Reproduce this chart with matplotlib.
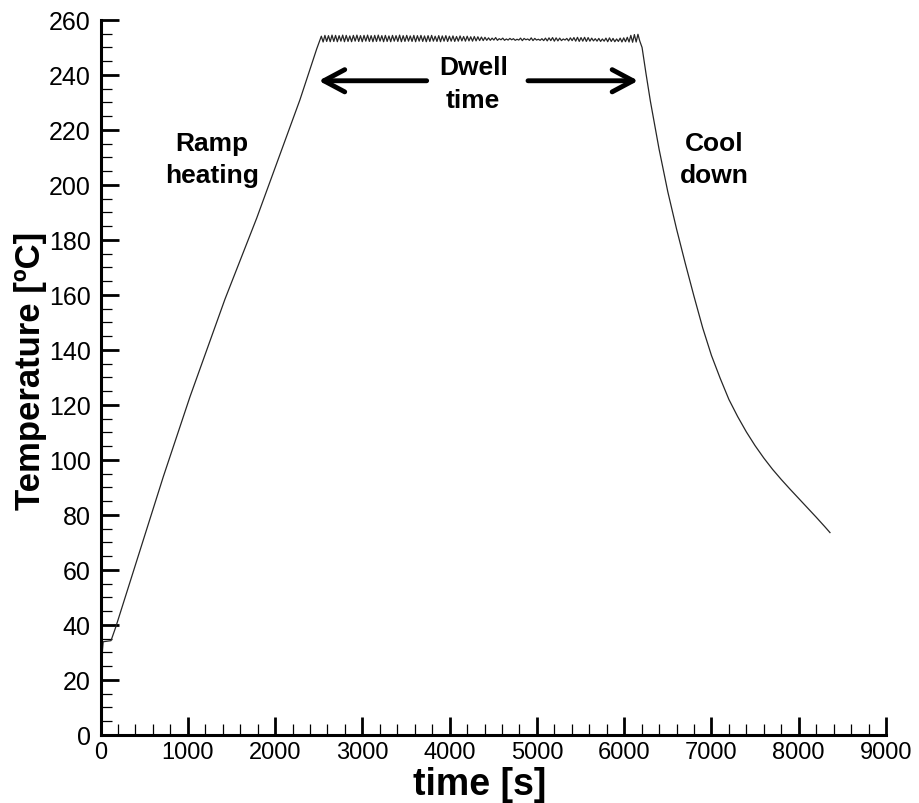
import numpy as np
import matplotlib
matplotlib.use("Agg")
import matplotlib.pyplot as plt
from matplotlib.ticker import MultipleLocator

plt.rcParams['font.family'] = ['Liberation Sans', 'DejaVu Sans']

# ---- data ----
# ramp heating segment (time [s], temperature [C])
ramp_t = [0, 20, 30, 120, 147, 174, 204, 720, 1025, 1426, 1790, 2285, 2477]
ramp_T = [24, 30, 33.9, 34.3, 36.7, 39.2, 42.2, 94, 123, 158.5, 188, 231, 249.5]

# dwell segment: oscillating controller response (alternating peaks / troughs)
dwell_start, dwell_end = 2530, 6178
dwell_T = [
    254.1, 252.0, 254.4, 252.2, 254.3, 252.1, 254.5, 252.2, 254.4, 252.1,
    254.3, 252.3, 254.5, 252.1, 254.4, 252.2, 254.2, 252.1, 254.4, 252.3,
    254.5, 252.2, 254.3, 252.1, 254.4, 252.3, 254.5, 252.2, 254.3, 252.1,
    254.4, 252.2, 254.5, 252.3, 254.3, 252.1, 254.4, 252.2, 254.2, 252.1,
    254.4, 252.3, 254.3, 252.2, 254.5, 252.1, 254.3, 252.2, 254.4, 252.3,
    254.2, 252.2, 254.4, 252.1, 254.3, 252.3, 254.4, 252.2, 254.2, 252.1,
    254.3, 252.2, 254.4, 252.3, 254.1, 252.2, 254.3, 252.1, 254.2, 252.3,
    254.3, 252.2, 254.1, 252.3, 254.2, 252.2, 254.0, 252.3, 254.2, 252.4,
    254.0, 252.3, 254.1, 252.4, 253.9, 252.3, 254.0, 252.4, 253.9, 252.5,
    253.8, 252.5, 253.7, 252.6, 253.5, 252.6, 253.4, 252.7, 253.6, 252.6,
    253.2, 252.8, 253.4, 252.6, 253.1, 252.7, 253.3, 252.8, 253.2, 252.6,
    253.0, 252.7, 253.4, 252.5, 253.3, 252.8, 253.1, 252.6, 253.5, 252.5,
    253.3, 252.7, 253.0, 252.6, 253.2, 252.5, 253.4, 252.4, 253.5, 252.5,
    253.6, 252.3, 253.5, 252.4, 253.4, 252.5, 253.1, 252.7, 253.3, 252.4,
    253.5, 252.5, 253.6, 252.3, 253.7, 252.2, 253.6, 252.3, 253.7, 252.2,
    253.6, 252.3, 253.4, 252.4, 253.2, 252.3, 253.3, 252.2, 253.1, 252.3,
    253.4, 252.1, 253.5, 252.2, 253.3, 252.1, 253.1, 252.2, 253.4, 252.0,
    253.5, 252.1, 253.7, 252.0, 254.4, 251.9, 254.7, 252.0, 254.8, 252.4,
]

# cool down segment
cool_t = [6205, 6250, 6300, 6400, 6500, 6600, 6700, 6800, 6900, 7000, 7100,
          7200, 7300, 7400, 7500, 7600, 7700, 7800, 7900, 8000, 8100, 8200,
          8300, 8358]
cool_T = [250.0, 240.5, 230.5, 213.0, 197.5, 184.0, 171.5, 159.5, 148.0, 138.0,
          129.7, 122.0, 115.8, 110.2, 105.2, 100.7, 96.6, 92.9, 89.4, 86.0, 82.6,
          79.2, 75.7, 73.6]

# axis ticks
x_major, x_minor = 1000, 200
y_major, y_minor = 20, 5

# ---- build the full series ----
dwell_t = np.linspace(dwell_start, dwell_end, len(dwell_T))
t = np.concatenate([ramp_t, dwell_t, cool_t])
T = np.concatenate([ramp_T, dwell_T, cool_T])

fig = plt.figure(figsize=(9.19, 8.04), dpi=100)
ax = fig.add_axes([0.1094, 0.0846, 0.8547, 0.8893])

ax.plot(t, T, color='#262626', lw=0.9)

ax.set_xlim(0, 9000)
ax.set_ylim(0, 260)
ax.xaxis.set_major_locator(MultipleLocator(x_major))
ax.xaxis.set_minor_locator(MultipleLocator(x_minor))
ax.yaxis.set_major_locator(MultipleLocator(y_major))
ax.yaxis.set_minor_locator(MultipleLocator(y_minor))

for s in ['top', 'right']:
    ax.spines[s].set_visible(False)
for s in ['left', 'bottom']:
    ax.spines[s].set_linewidth(2.2)

ax.tick_params(which='major', direction='in', length=13, width=2.0)
ax.tick_params(which='minor', direction='in', length=8, width=0.9)
ax.tick_params(axis='y', which='major', labelsize=18, pad=7)
ax.tick_params(axis='x', which='major', labelsize=17, pad=4)

ax.set_xlabel('time [s]', fontsize=27, fontweight='bold', va='center')
ax.xaxis.set_label_coords(0.483, -0.068)
ax.set_ylabel('Temperature [ºC]', fontsize=25, fontweight='bold', va='center')
ax.yaxis.set_label_coords(-0.089, 0.51)

# annotations
txt_kw = dict(fontsize=19, fontweight='bold', ha='center', va='center',
              linespacing=1.45)
ax.text(1277, 209.5, 'Ramp\nheating', **txt_kw)
ax.text(7035, 209.5, 'Cool\ndown', **txt_kw)
ax.text(4270, 237.0, 'Dwell\ntime', **txt_kw)

arrow_kw = dict(arrowstyle='->,head_length=15,head_width=8', lw=3.5,
                color='black', mutation_scale=1, shrinkA=0, shrinkB=0)
ax.annotate('', xy=(2500, 237.9), xytext=(3737, 237.9), arrowprops=arrow_kw)
ax.annotate('', xy=(6160, 237.9), xytext=(4898, 237.9), arrowprops=arrow_kw)

fig.savefig('out.png', dpi=100)
